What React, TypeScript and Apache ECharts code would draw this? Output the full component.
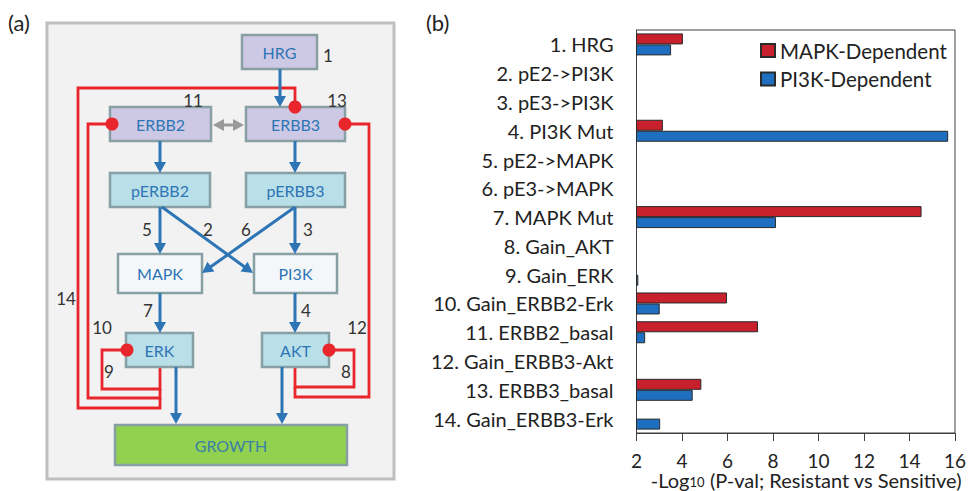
import React, { useEffect, useRef } from 'react';
import * as echarts from 'echarts';

const categories = [
  '1. HRG', '2. pE2->PI3K', '3. pE3->PI3K', '4. PI3K Mut', '5. pE2->MAPK', '6. pE3->MAPK',
  '7. MAPK Mut', '8. Gain_AKT', '9. Gain_ERK', '10. Gain_ERBB2-Erk', '11. ERBB2_basal',
  '12. Gain_ERBB3-Akt', '13. ERBB3_basal', '14. Gain_ERBB3-Erk',
];
const mapkDependent = [4.04, null, null, 3.16, null, null, 14.53, null, null, 5.98, 7.34, null, 4.85, null];
const pi3kDependent = [3.52, null, null, 15.7, null, null, 8.13, null, 2.08, 3.02, 2.38, null, 4.47, 3.04];
const seriesNames = ['MAPK-Dependent', 'PI3K-Dependent'];
const xMin = 2;
const xMax = 16;
const xInterval = 2;

const FONT = 'Lato, "Noto Sans", sans-serif';
const BLUE = '#2e75b6';
const RED = '#e8262b';
const BORDER = '#86a0a4';

function box(x: number, y: number, w: number, h: number, fill: string, text: string, color = BLUE) {
  return [
    { type: 'rect', shape: { x, y, width: w, height: h }, style: { fill, stroke: BORDER, lineWidth: 2.5 }, z: 10 },
    {
      type: 'text', x: x + w / 2, y: y + h / 2, z: 11,
      style: { text, fill: color, font: `16px ${FONT}`, align: 'center', verticalAlign: 'middle' },
    },
  ];
}

function arrowHead(x1: number, y1: number, x2: number, y2: number, color: string, len = 11, half = 6) {
  const dx = x2 - x1, dy = y2 - y1;
  const d = Math.sqrt(dx * dx + dy * dy);
  const ux = dx / d, uy = dy / d;
  const bx = x2 - ux * len, by = y2 - uy * len;
  return {
    type: 'polygon', z: 20,
    shape: { points: [[x2, y2], [bx - uy * half, by + ux * half], [bx + uy * half, by - ux * half]] },
    style: { fill: color },
  };
}

function arrow(x1: number, y1: number, x2: number, y2: number, color = BLUE, double = false) {
  const dx = x2 - x1, dy = y2 - y1;
  const d = Math.sqrt(dx * dx + dy * dy);
  const ux = dx / d, uy = dy / d;
  const sx = double ? x1 + ux * 9 : x1, sy = double ? y1 + uy * 9 : y1;
  const els: any[] = [
    { type: 'line', z: 19, shape: { x1: sx, y1: sy, x2: x2 - ux * 9, y2: y2 - uy * 9 }, style: { stroke: color, lineWidth: 3 } },
    arrowHead(x1, y1, x2, y2, color),
  ];
  if (double) els.push(arrowHead(x2, y2, x1, y1, color));
  return els;
}

function redLine(points: number[][]) {
  return { type: 'polyline', z: 5, shape: { points }, style: { stroke: RED, lineWidth: 2.8, fill: null } };
}

function dot(x: number, y: number) {
  return { type: 'circle', z: 25, shape: { cx: x, cy: y, r: 6.5 }, style: { fill: RED } };
}

function num(text: string, x: number, y: number) {
  return {
    type: 'text', x, y, z: 30,
    style: { text, fill: '#333', font: `17px ${FONT}`, align: 'center', verticalAlign: 'middle' },
  };
}

function diagram(): any[] {
  const els: any[] = [];
  els.push({ type: 'rect', z: 1, shape: { x: 47, y: 23, width: 347, height: 456 }, style: { fill: '#f2f2f2', stroke: '#bfbfbf', lineWidth: 3 } });
  els.push({ type: 'text', x: 8, y: 22, z: 30, style: { text: '(a)', fill: '#222', font: `22px ${FONT}`, align: 'left', verticalAlign: 'middle' } });
  els.push({ type: 'text', x: 426, y: 22, z: 30, style: { text: '(b)', fill: '#222', font: `22px ${FONT}`, align: 'left', verticalAlign: 'middle' } });

  // feedback lines
  els.push(redLine([[160, 367], [160, 389], [102, 389], [102, 350], [127, 350]]));
  els.push(redLine([[160, 389], [160, 398], [88, 398], [88, 124], [112, 124]]));
  els.push(redLine([[160, 398], [160, 408], [78, 408], [78, 88], [295, 88], [295, 107]]));
  els.push(redLine([[329, 350], [354, 350], [354, 387], [295, 387], [295, 367]]));
  els.push(redLine([[295, 387], [295, 397], [369, 397], [369, 124], [345, 124]]));

  const lav = '#cdc9e4';
  const teal = '#b9dfe8';
  const pale = '#f4f7f9';
  els.push(...box(242, 35, 75, 34, lav, 'HRG'));
  els.push(...box(110, 107, 101, 34, lav, 'ERBB2'));
  els.push(...box(246, 107, 99, 34, lav, 'ERBB3'));
  els.push(...box(110, 173, 100, 34, teal, 'pERBB2'));
  els.push(...box(246, 173, 99, 34, teal, 'pERBB3'));
  els.push(...box(118, 254, 84, 39, pale, 'MAPK'));
  els.push(...box(254, 254, 83, 39, pale, 'PI3K'));
  els.push(...box(126, 333, 67, 34, teal, 'ERK'));
  els.push(...box(262, 333, 67, 34, teal, 'AKT'));
  els.push(...box(115, 425, 232, 40, '#92d050', 'GROWTH', '#3a7fa6'));

  els.push(...arrow(280, 69, 280, 107));
  els.push(...arrow(160, 141, 160, 173));
  els.push(...arrow(295, 141, 295, 173));
  els.push(...arrow(160, 207, 160, 254));
  els.push(...arrow(295, 207, 295, 254));
  els.push(...arrow(162, 207, 253, 273));
  els.push(...arrow(295, 207, 202, 273));
  els.push(...arrow(160, 293, 160, 333));
  els.push(...arrow(295, 293, 295, 333));
  els.push(...arrow(176, 367, 176, 424));
  els.push(...arrow(282, 367, 282, 424));
  els.push(...arrow(213, 125, 244, 125, '#9a9a9a', true));

  els.push(dot(127, 350), dot(112, 124), dot(295, 107), dot(329, 350), dot(345, 124));

  els.push(num('1', 328, 55), num('11', 193, 100), num('13', 337, 100));
  els.push(num('5', 147, 229), num('2', 208, 229), num('6', 246, 229), num('3', 308, 229));
  els.push(num('7', 148, 310), num('4', 306, 310));
  els.push(num('14', 66, 298), num('10', 102, 327), num('12', 357, 327));
  els.push(num('9', 109, 371), num('8', 346, 371));
  return els;
}

export default function App() {
  const ref = useRef<HTMLDivElement>(null);
  useEffect(() => {
    if (!ref.current) return;
    const chart = echarts.init(ref.current, undefined, { renderer: 'svg' });
    chart.setOption({
      animation: false,
      backgroundColor: '#ffffff',
      textStyle: { fontFamily: FONT },
      legend: {
        orient: 'vertical', left: 760, top: 40, padding: 0, itemWidth: 14, itemHeight: 13, itemGap: 7.5,
        icon: 'rect',
        textStyle: { fontSize: 20.5, lineHeight: 21, color: '#222', fontFamily: FONT },
        data: seriesNames,
      },
      grid: {
        left: 636.5, right: 16, top: 30, bottom: 58, show: true,
        borderColor: '#404040', borderWidth: 1, backgroundColor: 'transparent', containLabel: false,
        outerBoundsMode: 'none',
      },
      xAxis: {
        type: 'value', min: xMin, max: xMax, interval: xInterval,
        axisLine: { show: true, lineStyle: { color: '#404040' } },
        axisTick: { show: true, length: 8, lineStyle: { color: '#404040' } },
        splitLine: { show: false },
        axisLabel: { fontSize: 19, lineHeight: 16, color: '#222', margin: 19, fontFamily: FONT },
        name: '{a|-Log}{s|10}{a| (P-val; Resistant vs Sensitive)}',
        nameLocation: 'middle', nameGap: 47, nameMoveOverlap: false,
        nameTextStyle: {
          verticalAlign: 'middle',
          padding: [0, 0, 0, 21],
          rich: {
            a: { fontSize: 20, lineHeight: 16, color: '#222', fontFamily: FONT },
            s: { fontSize: 13, lineHeight: 4, color: '#222', fontFamily: FONT, verticalAlign: 'bottom' },
          },
        },
      },
      yAxis: {
        type: 'category', data: categories, inverse: true,
        axisLine: { show: true, lineStyle: { color: '#404040' } },
        axisTick: { show: false },
        axisLabel: { fontSize: 20, color: '#222', margin: 23, fontFamily: FONT },
      },
      series: [
        {
          name: seriesNames[0], type: 'bar', data: mapkDependent, barWidth: 11, barGap: '0%',
          itemStyle: { color: '#c8202c', borderColor: '#2a2a2a', borderWidth: 1 },
        },
        {
          name: seriesNames[1], type: 'bar', data: pi3kDependent, barWidth: 11, barGap: '0%',
          itemStyle: { color: '#1f6fc0', borderColor: '#2a2a2a', borderWidth: 1 },
        },
      ],
      graphic: diagram(),
    });
    return () => chart.dispose();
  }, []);
  return <div ref={ref} style={{ width: 971, height: 491, position: 'absolute', left: 0, top: 0 }} />;
}
